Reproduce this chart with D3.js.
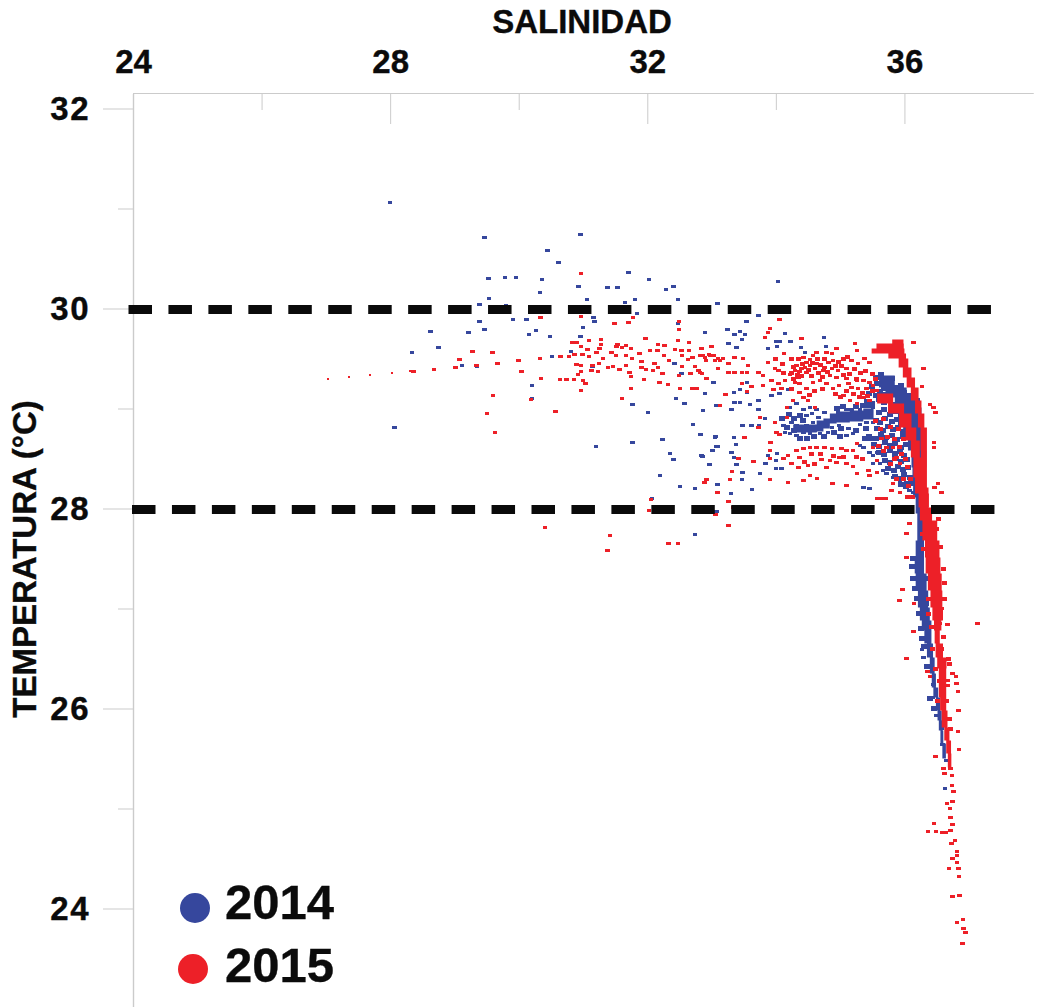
<!DOCTYPE html>
<html><head><meta charset="utf-8">
<style>html,body{margin:0;padding:0;background:#fff;overflow:hidden}svg{display:block}
text{font-family:"Liberation Sans",Arial,sans-serif;font-weight:700;fill:#0b0b0b;stroke:#0b0b0b;stroke-width:.35px}</style>
<script src="https://cdn.jsdelivr.net/npm/d3@7"></script></head><body>
<script>
// [salinity, temperature]
const points2014 = [[28,31.06],[28.07,28.81],[29.47,30.71],[29.53,30.3],[29.79,30.31],[29.96,30.31],[30.36,30.29],[30.45,30.58],[30.62,30.46],[30.96,30.74],[30.93,30.22],[30.33,30.16],[29.54,30.1],[29.39,30.04],[29.8,30.03],[29.39,29.87],[29.91,29.89],[30.12,29.89],[29.47,29.79],[28.63,29.77],[29.22,29.76],[30.27,29.78],[30.16,29.74],[30.49,29.72],[28.75,29.61],[28.34,29.56],[29.12,29.43],[29.35,29.42],[30.52,29.52],[30.81,29.57],[31,29.81],[30.96,29.72],[31.16,29.91],[31.18,29.87],[31.06,30.09],[31.38,30.21],[31.54,30.21],[31.71,30.36],[32.03,30.29],[32.29,30.19],[32.41,30.22],[32.48,30.09],[33.09,30.05],[31.65,30.06],[31.81,30.09],[31.84,29.95],[32.48,29.85],[32.9,29.76],[30.21,29.23],[30.21,29.1],[31.15,29.42],[32.53,29.35],[33.03,29.26],[32.9,29.15],[32.45,29.1],[32.58,29.05],[33.09,29.03],[31.77,29.04],[32.01,28.96],[32.87,28.98],[32.71,28.84],[32.83,28.74],[33.05,28.71],[33.09,28.62],[33.01,28.58],[31.2,28.62],[31.77,28.66],[32.24,28.69],[32.35,28.55],[32.41,28.49],[32.84,28.53],[32.96,28.44],[32.2,28.33],[32.51,28.22],[32.74,28.2],[33.09,28.24],[32.07,28.1],[33.07,27.97],[32.74,27.74],[32.42,29.45],
[34.03,30.27],[33.73,29.93],[33.54,29.87],[33.25,29.79],[33.36,29.74],[33.44,29.77],[33.52,29.74],[33.47,29.69],[33.26,29.65],[33.39,29.61],[34,29.67],[34.06,29.67],[34.23,29.67],[34.75,29.71],[33.88,29.6],[34.02,29.62],[34.14,29.75],[34.39,29.61],[34.78,29.62],[34.45,29.56],[34.63,29.56],[33.04,29.26],[33.55,29.26],[33.35,29.16],[33.44,29.19],[33.55,29.16],[33.08,29.03],[33.31,28.99],[33.36,29.06],[33.44,29.06],[33.6,29.04],[33.73,29.08],[33.73,28.99],[33.83,28.9],[33.93,29.13],[34.06,29.15],[34.19,29.19],[33.48,28.83],[33.62,28.83],[33.74,28.83],[33.06,28.72],[33.35,28.71],[33.08,28.62],[33.02,28.58],[33.38,28.64],[33.31,28.56],[32.86,28.52],[32.97,28.44],[33.35,28.51],[33.39,28.44],[33.48,28.36],[33.47,28.29],[33.75,28.35],[33.84,28.45],[34,28.48],[34,28.4],[34.09,28.4],[33.88,28.53],[34.02,28.55],[33.09,28.24],[33.3,28.15],[33.63,28.19],[33.08,27.97],
[34.22,29.01],[34.32,29.05],[34.43,28.99],[34.53,29.01],[34.63,28.99],[34.12,28.83],[34.14,28.76],[34.22,28.75],[34.32,28.73],[34.43,28.76],[34.53,28.75],[34.61,28.78],[34.69,28.75],[34.24,28.86],[34.32,28.83],[34.48,28.83],[34.58,28.86],[34.66,28.91],[34.48,28.93],[34.56,28.95],[34.76,28.96],[34.87,28.93],[34.97,28.96],[35.1,28.99],[35.18,28.99],[35.31,28.99],[35.41,28.98],[35.51,29.01],[35.51,28.86],[35.41,28.86],[35.31,28.84],[35.13,28.8],[34.98,28.83],[34.87,28.81],[34.81,28.76],[35.2,28.75],[35.1,28.73],[35.31,28.63],[35.36,28.61],[35.46,28.56],[35.51,28.53],[35.57,28.56],[35.51,28.45],[35.62,28.45],[35.67,28.38],[35.72,28.35],[35.82,28.31],[35.36,28.21],[35.46,28.2],[35.93,28.28],[36.03,28.26],[36.08,28.18],[36.14,28.16],
[36.27,26.59],[36.3,26.51],[36.41,26.32],[36.45,26.24],[36.44,26.11],[36.49,25.93],[36.58,25.8],[36.59,25.64],[36.65,25.48],[36.63,25.2]];

// dense 2014 wedge between the arc and the main curve
const wedge2014 = [[35.55,29.31],[35.63,29.34],[35.72,29.29],[35.8,29.3],[35.5,29.22],[35.58,29.25],[35.68,29.2],[35.78,29.24],[35.86,29.21],[35.95,29.23],[35.45,29.15],[35.55,29.13],[35.62,29.17],[35.7,29.14],[35.82,29.16],[35.9,29.12],[36,29.16],[36.06,29.13],[35.42,29.07],[35.5,29.05],[35.6,29.09],[35.68,29.06],[35.75,29.08],[35.85,29.04],[35.97,29.08],[36.1,29.05],[36.2,29.08],[35.6,28.96],[35.68,28.99],[35.78,28.94],[35.86,28.97],[35.94,28.93],[36.02,28.96],[35.55,28.88],[35.62,28.86],[35.7,28.9],[35.8,28.87],[35.88,28.89],[35.95,28.85],[35.58,28.8],[35.66,28.78],[35.74,28.82],[35.82,28.79],[35.9,28.81],[35.98,28.77],[35.45,28.72],[35.55,28.7],[35.63,28.74],[35.72,28.71],[35.8,28.73],[35.88,28.69],[35.97,28.72],[35.52,28.64],[35.6,28.62],[35.7,28.66],[35.78,28.63],[35.86,28.65],[35.95,28.61],[36.03,28.64],[35.6,28.56],[35.68,28.54],[35.77,28.58],[35.85,28.55],[35.93,28.57],[36,28.53],[35.7,28.48],[35.78,28.46],[35.86,28.5],[35.95,28.47],[36.04,28.49],[35.75,28.4],[35.83,28.38],[35.9,28.42],[35.98,28.39],[36.05,28.41],[35.85,28.32],[35.92,28.3],[36,28.34],[36.08,28.31],[35.95,28.24],[36.02,28.22],[36.1,28.25],
[34.1,28.9],[34.17,28.81],[34.2,28.94],[34.28,28.9],[34.37,28.93],[34.42,28.88],[34.28,28.78],[34.37,28.7],[34.48,28.7],[34.6,28.72],[34.72,28.84],[34.75,28.72],[34.9,28.76],[34.95,29],[35.02,28.8],[35.05,29.02],[35.25,29.02],[35.25,28.78],[35.35,29.03],[35.4,28.8],[35.45,29.03],[35.48,28.7],[35.38,28.7],[35,28.72],
[36.13,27.5],[36.12,27.42],[36.14,27.3],[36.17,27.2],[36.2,27.1],[36.22,26.95],[36.25,26.8],[36.27,26.7],[36.31,26.62],[36.35,26.42],[36.4,26.1],[36.46,26],[36.33,27.05],[36.36,27.3],[36.22,27.6]];

const points2015 = [[28.36,29.37],[28.68,29.39],[29.02,29.41],[29.08,29.49],[29.28,29.57],[29.34,29.43],[29.59,29.56],[29.67,29.45],[30,29.48],[30.04,29.37],[30.33,29.5],[30.35,29.3],[29.6,29.13],[29.51,28.95],[29.63,28.76],[30.19,29.09],[30.57,28.97],[30.97,30.35],[30.34,29.91],[30.97,29.92],[31.49,29.85],[31.71,29.86],[31.78,29.91],[32.49,29.87],[32.49,29.79],[31.61,29.1],[30.41,27.81],[31.42,27.73],[31.38,27.58],[32.33,27.65],[32.48,27.65],[32.89,28.26],[32.92,28.29],[32.06,28.09],[32.03,27.98],[33.06,27.94],[33.09,28.16],
[30.65,29.52],[30.78,29.52],[30.87,29.54],[30.84,29.66],[30.91,29.66],[30.97,29.62],[31.09,29.68],[31.07,29.59],[30.99,29.54],[31.09,29.52],[30.9,29.44],[30.97,29.43],[31.15,29.43],[31.13,29.38],[31.23,29.37],[30.97,29.37],[30.92,29.34],[30.64,29.29],[30.74,29.29],[30.86,29.29],[31,29.28],[31.04,29.25],[30.97,29.18],[31.21,29.56],[31.26,29.6],[31.28,29.64],[31.28,29.69],[31.44,29.56],[31.31,29.5],[31.25,29.45],[31.39,29.41],[31.47,29.42],[31.52,29.62],[31.54,29.64],[31.61,29.61],[31.67,29.63],[31.75,29.6],[31.51,29.53],[31.67,29.53],[31.76,29.5],[31.91,29.47],[31.88,29.55],[31.97,29.7],[32.04,29.58],[32.17,29.64],[32.27,29.63],[32.16,29.58],[31.67,29.43],[31.57,29.39],[31.72,29.36],[31.75,29.32],[31.95,29.29],[31.75,29.2],[31.91,29.41],[31.98,29.39],[32.11,29.45],[32.09,29.38],[32.17,29.41],[32.24,29.35],[32.34,29.48],[32.26,29.53],[32.19,29.26],[32.32,29.24],[32.51,29.2],[32.7,29.2],[32.77,29.2],[32.43,29.59],[32.53,29.58],[32.48,29.68],[32.65,29.66],[32.65,29.58],[32.54,29.53],[32.63,29.49],[32.7,29.51],[32.54,29.42],[32.74,29.42],[32.8,29.38],[32.67,29.35],[32.49,29.33],[32.84,29.6],[32.87,29.53],[33,29.62],[32.96,29.54],[33.03,29.53],[33.05,29.48],[32.91,29.48],[32.92,29.3],[32.85,29.35],[33.1,29.4],[33.1,29.5],
[34.06,29.89],[33.91,29.8],[33.88,29.76],[33.83,29.71],[34.4,29.7],[34.13,29.55],[35.23,29.65],[34.94,29.6],[34.79,29.56],[34.87,29.55],[34.63,29.56],[34.58,29.53],[34.53,29.49],[34.43,29.51],[34.48,29.46],[34.3,29.38],[34.37,29.37],[34.22,29.34],[34.35,29.31],[34.48,29.36],[34.61,29.4],[34.74,29.38],[34.87,29.4],[34.97,29.38],[35.1,29.4],[35.18,29.48],[35.28,29.45],[35.38,29.5],[35.46,29.46],[35.26,29.58],[36.14,29.66],[36.3,29.4],[36.27,29.22],
[32.82,29.53],[32.9,29.51],[32.98,29.53],[33.05,29.48],[33.13,29.48],[33.18,29.5],[33.26,29.45],[33.36,29.51],[33.49,29.5],[33.57,29.43],[32.82,29.36],[32.92,29.3],[33.1,29.4],[33.26,29.36],[33.36,29.36],[33.47,29.36],[33.55,29.36],[33.73,29.36],[33.8,29.33],[33.88,29.46],[33.99,29.4],[34.04,29.38],[33.93,29.28],[34.04,29.25],[34.14,29.28],[33.8,29.23],[33.96,29.19],[34.09,29.2],[33.47,29.25],[33.62,29.22],[33.55,29.17],[33.22,29.14],[33.13,29.03],
[34.17,29.01],[34.27,29.08],[34.37,29.16],[34.48,29.2],[34.58,29.26],[34.69,29.28],[34.79,29.25],[34.89,29.2],[34.98,29.23],[35.13,29.25],[35.26,29.28],[35.36,29.28],[35.46,29.26],[35.05,29.13],[35.15,29.08],[35.26,29.05],[35.36,29.11],[35.46,29.08],[35.57,29.18],[34.3,29.26],[34.37,29.25],[34.43,29.11],[34.5,29.08],[34.61,29.01],[34.17,28.91],[33.75,28.91],[33.73,28.81],[33.99,28.86],[34.01,28.76],[33.51,28.71],[33.92,28.66],[33.91,28.58],[34.06,28.74],
[34.19,28.53],[34.12,28.5],[34.24,28.45],[34.35,28.41],[34.32,28.58],[34.43,28.6],[34.53,28.61],[34.63,28.61],[34.76,28.61],[34.87,28.6],[35.02,28.6],[35.1,28.58],[35.2,28.58],[34.5,28.43],[34.37,28.51],[34.71,28.49],[34.84,28.48],[34.94,28.46],[35.1,28.45],[34.98,28.51],[34.79,28.41],[35.2,28.42],[35.26,28.35],[35.44,28.38],[35.46,28.33],[35.57,28.36],[33.65,28.47],[33.91,28.5],[33.42,28.5],[33.32,28.37],[32.9,28.26],[33.29,28.29],[33.91,28.29],[34.19,28.26],[34.43,28.28],[34.53,28.33],[34.64,28.3],[34.88,28.25],[35.1,28.23],[35.57,28.1],[35.64,28.1],[35.71,28.1],[35.26,28.65],[35.72,28.61],[35.82,28.61],[35.88,28.51],[35.93,28.45],[35.51,28.61],[35.57,28.48],[35.64,28.7],[35.82,28.25],[35.8,28.18],[35.93,28.16],[33.26,28.07],[33.34,28.01],[33.26,27.83],[33.06,27.94],[36.03,27.75],[36.08,27.85],[36.03,27.51],
[36.4,29.04],[36.45,29.01],[36.48,28.96],[36.46,28.66],[36.46,28.61],[36.52,28.25],[36.47,28.21],[36.58,28.16],
[34.32,29.43],[34.4,29.4],[34.45,29.41],[34.53,29.43],[34.63,29.45],[34.76,29.41],[34.82,29.46],[34.89,29.48],[35.1,29.3],[35.18,29.21],[35.28,29.2],[35.41,29.2],[35.51,29.23],[34.94,29.31],[34.84,29.33],
[35.97,27.19],[35.92,27.08],[36.15,27.05],[36.14,26.77],[36.03,26.5],[36.36,26.37],[36.4,26.32],[37.14,26.85],[36.67,26.84],[36.55,26.85],[36.58,27],[36.75,26.35],[36.8,26.32],[36.81,26.25],[36.83,26.17],[36.67,26.28],[36.68,26.23],[36.84,25.98],[36.83,25.77],[36.85,25.59],[36.48,25.52],[36.61,25.4],[36.62,25.35],[36.72,25.4],[36.74,25.33],[36.74,25.23],[36.76,25.17],[36.66,25.05],[36.71,25],[36.75,25.07],[36.72,24.91],[36.75,24.84],[36.46,24.85],[36.72,24.78],[36.37,24.77],[36.49,24.77],[36.59,24.76],[36.65,24.76],[36.79,24.68],[36.73,24.65],[36.82,24.57],[36.82,24.53],[36.75,24.5],[36.82,24.46],[36.84,24.4],[36.69,24.4],[36.85,24.32],[36.75,24.12],[36.86,24.13],[36.91,23.89],[36.82,23.86],[36.92,23.8],[36.95,23.76],[36.9,23.65]];

// dense 2015 patches
const patch2015 = [[34.25,29.36],[34.27,29.42],[34.33,29.34],[34.4,29.33],[34.42,29.45],[34.5,29.39],[34.55,29.33],[34.57,29.46],[34.66,29.36],[34.7,29.44],[34.72,29.32],[34.8,29.37],[34.92,29.43],[35.02,29.43],[35.05,29.34],[34.35,29.5],[34.65,29.5],[34.75,29.5],[34.98,29.47],[35.15,29.35],[35.22,29.4],[35.25,29.3],[35.32,29.36],[35.4,29.38],[35.5,29.35],[35.55,29.3],[35.35,29.16],[35.42,29.13],[35.5,29.18],[35.3,29.12],[35.2,29.15],[35.1,29.18],[35,29.12],[34.92,29.15],[34.72,29.2],[34.6,29.18],[34.52,29.14],[34.25,29.2],[34.28,29.3],[34.12,29.36],[34.1,29.45],[34,29.5],[34.25,29.5],[35.05,29.5],[35.12,29.52],[35.55,28.88],[35.62,28.8],[35.68,28.9],[35.73,28.72],[35.78,28.82],[35.85,28.7],[35.9,28.8],[35.93,28.62],[35.98,28.7],[35.85,28.5],[35.95,28.55],[36.02,28.5],[36.05,28.42],[35.78,28.45],[35.68,28.58],[35.6,28.63],[36.1,28.3],[36.06,28.23],[35.98,28.3],[35.88,28.3],[36.12,28.12],[36.05,28.12],
[34.55,28.55],[34.7,28.55],[34.9,28.53],[34.45,28.47],[34.6,28.45],[35.05,28.52],[35.25,28.52],[35.35,28.5],[36.28,27.75],[36.3,27.6],[36.5,27.8],[36.53,27.9],[36.56,27.62],[36.6,27.4],[36.62,27.26],[36.63,27.1],[36.38,27.1],[36.37,26.95],[36.42,26.82],[36.6,26.72],[36.44,26.6],[36.58,26.6],[36.68,26.5],[36.48,26.4],[36.7,26.45],[36.55,26.28],[36.66,26.08],[36.52,26.08],[36.7,25.9],[36.72,25.8]];

const faint2015 = [[27.03,29.3],[27.36,29.32],[27.69,29.34],[28.03,29.36],[28.31,29.38]];

// Densest parts, read as [temperature, lowest salinity, highest salinity]
const coreUpper2015 = [[29.69,35.85,35.98],[29.65,35.77,35.99],[29.6,35.36,35.99],[29.55,35.62,36.01],[29.5,35.88,36.04],[29.41,35.94,36.08],[29.31,36.01,36.14],[29.21,36.06,36.19],[29.08,36.14,36.25],[28.95,36.19,36.28],[28.81,36.23,36.34],[28.58,36.27,36.36],[28.38,36.24,36.34],[28.21,36.25,36.36],[28.01,36.24,36.39],[27.88,36.24,36.47],[27.68,36.32,36.55],[27.51,36.32,36.54],[27.35,36.34,36.58],[27.18,36.39,36.58],[27.01,36.42,36.6],[26.88,36.45,36.6],[26.78,36.47,36.55],[26.65,36.47,36.55],[26.51,36.5,36.65],[26.4,36.52,36.66],[26.11,36.55,36.64],[25.98,36.56,36.66],[25.81,36.6,36.68],[25.68,36.64,36.72],[25.55,36.66,36.73],[25.41,36.69,36.73]];
const coreLower2015 = [[29.15,35.51,35.72],[29.05,35.64,35.93],[28.95,35.85,36.06],[28.81,35.98,36.16],[28.68,36.06,36.21],[28.51,36.14,36.27],[28.31,36.14,36.29],[28.15,36.19,36.37],[28.01,36.25,36.39]];
const core2014 = [[29.33,35.57,35.77],[29.21,35.64,35.93],[29.11,35.77,36.14],[29.01,35.93,36.24],[28.75,36.03,36.29],[28.58,36.08,36.34],[28.41,36.14,36.34],[28.25,36.11,36.29],[28.11,36.16,36.34],[27.95,36.19,36.34],[27.88,36.21,36.29],[27.68,36.19,36.32],[27.51,36.16,36.29],[27.35,36.16,36.32],[27.18,36.19,36.37],[27.01,36.23,36.37],[26.88,36.25,36.42],[26.78,36.29,36.42],[26.65,36.33,36.42],[26.51,36.37,36.47],[26.35,36.42,36.47],[26.21,36.43,36.51],[26.11,36.47,36.54],[25.98,36.51,36.57],[25.88,36.52,36.59],[25.78,36.55,36.6],[25.65,36.57,36.61],[25.5,36.61,36.68]];
// [salinity, lowest temperature, highest temperature]
const arc2014 = [[34.27,28.76,28.84],[34.38,28.76,28.84],[34.48,28.76,28.84],[34.58,28.76,28.84],[34.69,28.77,28.88],[34.79,28.8,28.9],[34.89,28.85,28.95],[35,28.86,28.97],[35.1,28.86,28.97],[35.2,28.87,28.98],[35.31,28.87,28.98],[35.41,28.89,29],[35.52,28.89,29]];

const refLines = [30, 28];
const refSalinity = [24, 37.38];
const xMajor = [24, 28, 32, 36];
const xMinor = [26, 30, 34];
const yMajor = [32, 30, 28, 26, 24];
const yMinor = [31, 29, 27, 25];
const legendItems = [["2014", "#36479d"], ["2015", "#ed2028"]];

const W = 1039, H = 1007;
const x = d3.scaleLinear().domain([24, 38]).range([133, 1033]);
const y = d3.scaleLinear().domain([32.15, 23]).range([93.5, 1008.5]);

const svg = d3.select("body").append("svg").attr("width", W).attr("height", H);
const GRAY = "#cbcbcb";

function styleAxis(g, size, spacing) {
  g.selectAll("path.domain").attr("stroke", GRAY).attr("stroke-width", 1.2);
  g.selectAll(".tick line").attr("stroke", GRAY).attr("stroke-width", 1);
  g.selectAll("text").style("font-size", size + "px").style("letter-spacing", spacing + "px")
    .attr("fill", "#0b0b0b").style("font-family", '"Liberation Sans",Arial,sans-serif').style("font-weight", 700);
}
svg.append("g").attr("transform", "translate(0,93)")
  .call(d3.axisTop(x).tickValues(xMinor).tickSize(-17).tickSizeOuter(0).tickFormat(""))
  .call(g => styleAxis(g, 32, 0));
svg.append("g").attr("transform", "translate(0,93)")
  .call(d3.axisTop(x).tickValues(xMajor).tickSize(-31).tickSizeOuter(0).tickPadding(20).tickFormat(d3.format("d")))
  .call(g => styleAxis(g, 33, 0));
svg.append("g").attr("transform", "translate(133,0)")
  .call(d3.axisLeft(y).tickValues(yMinor).tickSize(15).tickSizeOuter(0).tickFormat(""))
  .call(g => styleAxis(g, 32, 0));
svg.append("g").attr("transform", "translate(133,0)")
  .call(d3.axisLeft(y).tickValues(yMajor).tickSize(30).tickSizeOuter(0).tickPadding(13).tickFormat(d3.format("d")))
  .call(g => styleAxis(g, 33, 1.5));

// Titles
svg.append("text").attr("x", 582).attr("y", 33).attr("text-anchor", "middle").style("font-size", "33px").text("SALINIDAD");
svg.append("text").attr("transform", "translate(36,559) rotate(-90)").attr("text-anchor", "middle").style("font-size", "33px").text("TEMPERATURA (°C)");

// Marks: 2014 under 2015
const coreV = d3.area().curve(d3.curveStep).y(d => y(d[0])).x0(d => x(d[1])).x1(d => x(d[2]));
const coreH = d3.area().curve(d3.curveStep).x(d => x(d[0])).y0(d => y(d[1])).y1(d => y(d[2]));
function dots(cls, data, color, w, h) {
  svg.append("g").attr("class", cls).attr("fill", color).attr("shape-rendering", "crispEdges")
    .selectAll("rect").data(data).join("rect")
    .attr("x", d => x(d[0]) - w / 2).attr("y", d => y(d[1]) - h / 2)
    .attr("width", w).attr("height", h);
}
const BLUE = legendItems[0][1], RED = legendItems[1][1];
svg.append("path").datum(core2014).attr("fill", BLUE).attr("d", coreV);
svg.append("path").datum(arc2014).attr("fill", BLUE).attr("d", coreH);
dots("p2014", points2014, BLUE, 4.5, 3.5);
dots("w2014", wedge2014, BLUE, 6, 5);
dots("p2015", points2015, RED, 4.5, 3.5);
dots("d2015", patch2015, RED, 5, 4);
dots("f2015", faint2015, RED, 2.5, 2);
svg.append("path").datum(coreLower2015).attr("fill", RED).attr("d", coreV);
svg.append("path").datum(coreUpper2015).attr("fill", RED).attr("d", coreV);

// Reference lines
svg.append("g").selectAll("line").data(refLines).join("line")
  .attr("x1", x(refSalinity[0])).attr("x2", x(refSalinity[1]))
  .attr("y1", d => y(d) + 1).attr("y2", d => y(d) + 1)
  .attr("stroke", "#0a0a0a").attr("stroke-width", 9)
  .attr("stroke-linecap", "square").attr("stroke-dasharray", "14.5 25.45")
  .attr("stroke-dashoffset", (d, i) => i === 0 ? 0 : -3.5);

// Legend
const legendRows = [[195, 908, 919], [193, 969, 982]];
legendItems.forEach((it, i) => {
  const r = legendRows[i];
  svg.append("circle").attr("cx", r[0]).attr("cy", r[1]).attr("r", 15).attr("fill", it[1]);
  svg.append("text").attr("x", 225).attr("y", r[2]).style("font-size", "49px").text(it[0]);
});
</script></body></html>
